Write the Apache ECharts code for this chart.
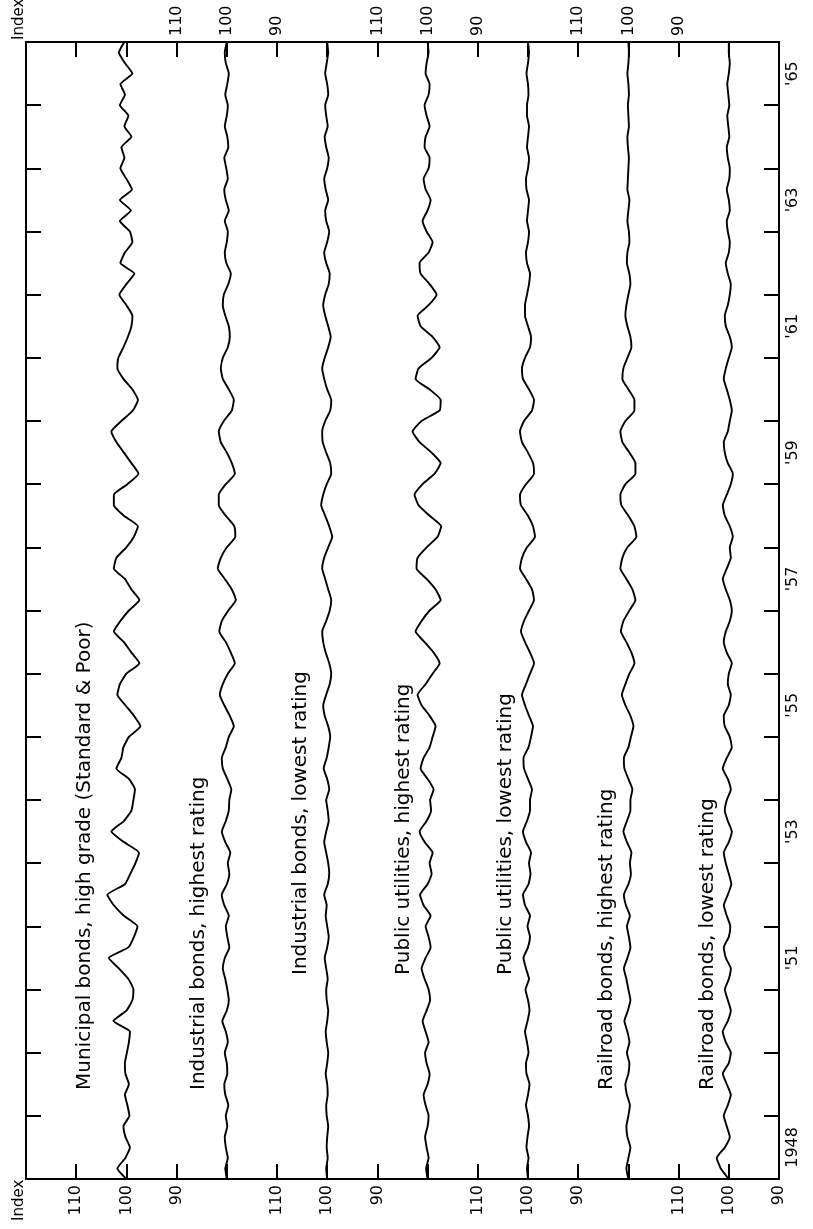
<!DOCTYPE html>
<html><head><meta charset="utf-8">
<script src="https://cdn.jsdelivr.net/npm/echarts@6/dist/echarts.min.js"></script>
<style>html,body{margin:0;padding:0;background:#fff}#c{width:813px;height:1229px}</style>
</head><body><div id="c"></div>
<script>
const startYear = 1948, endYear = 1966, pointsPerYear = 6;
const years = ['1948','1949','1950','1951','1952','1953','1954','1955','1956','1957','1958','1959','1960','1961','1962','1963','1964','1965'];
const yearLabels = ['1948','','',"'51",'',"'53",'',"'55",'',"'57",'',"'59",'',"'61",'',"'63",'',"'65"];
const indexTickLabels = ['110','100','90'];
const seriesNames = [
  'Municipal bonds, high grade (Standard & Poor)',
  'Industrial bonds, highest rating',
  'Industrial bonds, lowest rating',
  'Public utilities, highest rating',
  'Public utilities, lowest rating',
  'Railroad bonds, highest rating',
  'Railroad bonds, lowest rating'
];
// bimonthly values, Jan 1948 .. Jan 1966
const municipal = [
100.0,101.8,100.2,99.3,100.2,100.6,
99.4,99.8,100.3,99.5,100.2,100.3,
99.9,99.5,99.3,102.6,100.0,98.8,
98.6,99.6,101.5,103.5,99.6,98.5,
97.8,100.5,102.5,103.8,100.3,99.2,
98.2,97.5,100.5,103.0,100.5,99.0,
98.6,98.3,99.5,102.0,101.0,100.6,
99.5,97.2,98.5,100.2,101.8,101.3,
100.0,97.4,99.0,100.5,102.5,101.2,
99.5,97.4,99.0,100.3,102.5,102.0,
100.0,98.5,97.7,100.5,102.5,102.5,
99.8,97.6,99.0,100.5,102.0,103.0,
101.0,98.7,97.7,98.8,100.6,101.8,
101.6,100.6,99.7,99.0,98.8,100.0,
101.4,100.0,98.4,101.2,100.3,98.8,
99.3,101.3,99.1,101.3,98.9,100.0,
101.2,100.4,101.0,99.0,100.4,99.6,
101.3,100.3,101.2,98.8,100.3,101.5,
100.4];
const industrialHigh = [
100.0,100.3,99.8,100.2,100.4,99.9,
100.2,99.7,100.3,100.5,99.9,100.0,
100.4,99.8,100.2,100.9,100.0,99.6,
99.9,100.3,100.8,100.4,99.5,99.9,
100.2,99.6,100.5,101.0,100.0,99.5,
99.8,99.3,100.3,101.0,100.2,99.6,
99.5,99.1,99.9,100.8,101.0,100.2,
99.6,98.6,99.4,100.5,101.4,100.8,
99.8,98.4,99.2,100.2,101.5,101.0,
99.7,98.2,99.0,100.4,101.8,101.2,
100.0,98.3,98.5,100.2,101.6,101.6,
100.2,98.4,99.0,100.0,101.2,101.6,
100.6,99.0,98.6,99.6,100.8,101.2,
100.8,99.8,99.4,99.6,100.3,100.8,
100.6,99.7,99.2,100.1,100.4,100.0,
99.8,100.4,99.6,100.2,100.5,99.8,
100.1,100.5,99.7,99.9,100.4,100.0,
99.8,100.3,99.9,99.6,100.2,100.4,
100.0];
const industrialLow = [
100.0,100.2,99.9,100.1,100.0,99.8,
100.1,100.2,99.9,100.0,100.3,100.0,
99.8,100.1,100.3,100.0,99.8,100.1,
100.2,99.9,100.2,100.5,100.0,99.7,
100.0,100.3,100.1,100.6,99.9,99.6,
99.8,100.2,100.6,100.2,99.7,99.9,
100.2,99.6,100.0,100.7,100.1,99.7,
99.4,99.8,100.5,100.8,100.2,99.5,
99.2,99.6,100.3,100.8,101.0,100.2,
99.5,99.2,99.8,100.4,101.0,100.6,
99.8,99.0,99.6,100.4,101.2,100.8,
100.1,99.2,99.4,100.2,100.9,101.0,
100.4,99.4,99.2,100.0,100.6,101.0,
100.5,99.8,99.3,99.8,100.4,100.8,
100.4,99.7,99.5,100.2,100.6,100.0,
99.6,100.2,100.4,99.8,100.3,100.6,
100.0,99.7,100.2,100.5,99.9,100.2,
100.4,99.8,100.0,100.4,100.1,99.8,
100.0];
const utilitiesHigh = [
100.0,100.3,99.8,100.2,100.5,100.0,
99.8,100.4,100.8,100.0,99.6,100.2,
100.5,99.8,100.4,101.0,100.2,99.5,
99.8,100.6,101.2,100.4,99.4,99.8,
100.4,99.4,100.8,101.5,100.0,99.2,
99.6,99.0,100.6,101.6,100.2,99.3,
99.5,98.8,100.0,101.4,100.8,99.6,
99.0,98.4,99.6,101.2,102.0,100.4,
99.0,97.6,98.8,100.6,102.4,101.2,
99.6,97.4,98.4,100.2,102.2,102.0,
100.2,98.0,97.3,99.6,101.8,102.6,
101.0,98.6,97.4,99.2,101.6,103.0,
101.2,97.6,97.4,99.6,102.4,101.8,
99.2,97.6,99.0,101.4,102.0,99.8,
98.2,99.6,101.4,101.6,99.8,99.0,
100.2,101.0,100.0,99.4,100.4,100.8,
99.8,99.6,100.6,100.4,99.6,100.2,
100.6,99.8,99.6,100.4,100.2,99.8,
100.0];
const utilitiesLow = [
100.0,100.2,99.9,100.3,100.1,99.8,
100.0,100.4,100.0,99.7,100.3,100.4,
99.9,100.2,100.6,100.1,99.7,100.0,
100.5,99.8,100.4,100.9,100.0,99.6,
100.1,99.6,100.6,101.0,99.9,99.5,
99.8,99.4,100.4,101.0,100.2,99.6,
99.6,99.2,100.0,100.8,100.9,99.9,
99.4,99.0,99.8,100.6,101.2,100.4,
99.6,98.8,99.6,100.6,101.4,100.8,
99.8,98.8,99.2,100.4,101.6,101.2,
100.2,98.6,99.0,100.0,101.4,101.6,
100.4,98.8,99.0,100.0,101.2,101.6,
100.8,99.2,98.8,99.8,101.0,101.2,
100.6,99.6,99.4,100.0,100.6,100.6,
100.2,99.8,99.6,100.2,100.4,100.0,
99.8,100.2,100.0,99.8,100.3,100.4,
100.0,99.8,100.2,100.0,99.8,100.2,
100.2,99.9,100.0,100.3,100.0,99.8,
100.0];
const railroadHigh = [
100.0,100.4,100.0,99.6,100.2,100.4,
100.0,99.7,100.3,100.6,100.0,99.8,
100.3,99.8,100.2,100.8,100.1,99.6,
100.0,100.4,100.9,100.2,99.6,99.9,
100.3,99.7,100.5,100.9,100.0,99.5,
99.7,99.4,100.3,101.0,100.3,99.6,
99.6,99.2,100.0,100.8,100.9,100.0,
99.5,99.0,99.6,100.6,101.3,100.6,
99.8,98.8,99.4,100.4,101.5,101.0,
99.8,98.6,99.2,100.4,101.6,101.2,
100.2,98.4,98.8,100.0,101.4,101.6,
100.6,98.6,98.6,99.8,101.2,101.6,
100.6,98.8,98.8,100.0,101.2,101.0,
100.2,99.4,99.6,100.2,100.6,100.4,
100.0,99.6,99.8,100.3,100.2,99.8,
99.9,100.2,100.0,99.8,100.2,100.1,
100.0,99.9,100.1,100.2,99.9,100.0,
100.1,99.9,100.0,100.2,100.0,99.9,
100.0];
const railroadLow = [
100.0,101.6,102.4,100.8,99.8,100.4,
101.0,100.2,99.6,100.4,101.2,100.0,
99.6,100.6,101.2,100.2,99.6,100.2,
100.8,100.0,99.6,100.6,101.0,100.0,
99.7,100.4,101.0,100.2,99.5,100.0,
100.6,101.0,100.0,99.4,100.2,100.8,
100.4,99.6,100.2,101.2,100.4,99.4,
99.8,100.8,101.0,100.0,99.6,100.2,
100.0,99.4,100.4,101.0,100.6,99.8,
99.4,99.8,100.6,101.2,100.4,99.6,
99.8,99.2,99.8,100.8,101.2,100.4,
99.6,99.2,100.2,100.8,101.0,100.2,
99.8,99.4,99.8,100.4,101.0,100.6,
100.0,99.4,99.8,100.6,100.8,100.2,
99.8,99.6,100.2,100.6,100.0,99.8,
100.2,100.4,99.8,100.0,100.4,99.9,
99.8,100.2,100.4,99.9,100.1,100.3,
99.9,100.1,100.3,100.0,99.8,100.0,
100.0];
const allSeries = [municipal, industrialHigh, industrialLow, utilitiesHigh, utilitiesLow, railroadHigh, railroadLow];

const chart = echarts.init(document.getElementById('c'), null, {renderer: 'canvas'});
const FONT = 'DejaVu Sans';
const STEP = 20;           // index units between the panels' 100 lines
const SPAN = 150;          // index units across the frame

function labelFormatter(axisIdx, sideSeries) {
  return function (v) {
    for (const k of sideSeries) {
      const c = 100 - STEP * (k - axisIdx);
      const d = Math.round(v - c);
      if (d === 10) return indexTickLabels[0];
      if (d === 0) return indexTickLabels[1];
      if (d === -10) return indexTickLabels[2];
    }
    return '';
  };
}

const xAxes = allSeries.map((_, k) => {
  const base = {
    type: 'value', inverse: true,
    min: -30 + STEP * k, max: -30 + STEP * k + SPAN,
    splitLine: {show: false}
  };
  if (k === 0 || k === 1) {
    return Object.assign(base, {
      show: true,
      position: k === 0 ? 'bottom' : 'top',
      interval: 10,
      axisLine: {show: true, onZero: false, lineStyle: {color: '#000', width: 2}},
      axisTick: {show: true, inside: true, length: 15, lineStyle: {color: '#000', width: 2}},
      axisLabel: {
        show: true, rotate: k === 0 ? 90 : -90, margin: 6, fontSize: 16, fontFamily: FONT, color: '#000',
        showMinLabel: true, showMaxLabel: true,
        formatter: labelFormatter(k, k === 0 ? [0, 2, 4, 6] : [1, 3, 5])
      }
    });
  }
  return Object.assign(base, {show: false});
});

const yAxes = [
  {type: 'value', min: startYear, max: endYear, interval: 1, position: 'left',
   axisLine: {show: true, onZero: false, lineStyle: {color: '#000', width: 2}},
   axisTick: {show: true, inside: true, length: 15, lineStyle: {color: '#000', width: 2}},
   axisLabel: {show: false}, splitLine: {show: false}},
  {type: 'value', min: startYear, max: endYear, interval: 1, position: 'right',
   axisLine: {show: true, onZero: false, lineStyle: {color: '#000', width: 2}},
   axisTick: {show: true, inside: true, length: 15, lineStyle: {color: '#000', width: 2}},
   axisLabel: {show: false}, splitLine: {show: false}},
  {type: 'category', data: years, position: 'right', boundaryGap: true,
   axisLine: {show: false, onZero: false}, axisTick: {show: false}, splitLine: {show: false},
   axisLabel: {show: true, interval: 0, rotate: 90, margin: 6, fontSize: 16, fontFamily: FONT, color: '#000',
     formatter: (val, idx) => yearLabels[idx]}}
];

const series = allSeries.map((vals, k) => ({
  type: 'line', name: seriesNames[k], xAxisIndex: k, yAxisIndex: 0,
  data: vals.map((v, i) => [v, startYear + i / pointsPerYear]),
  showSymbol: false, smooth: 0.15, animation: false,
  lineStyle: {color: '#000', width: 1.9}
}));

const namePos = [[85, 1090], [199, 1090], [301, 975], [404, 975], [506, 975], [607, 1090], [708, 1090]];
const graphics = seriesNames.map((n, k) => ({
  type: 'text', x: namePos[k][0], y: namePos[k][1], rotation: Math.PI / 2,
  style: {text: n, fontSize: 20, fontFamily: FONT, fill: '#000', align: 'left', verticalAlign: 'middle'}
}));
graphics.push({type: 'text', x: 19, y: 1221, rotation: Math.PI / 2,
  style: {text: 'Index', fontSize: 15, fontFamily: FONT, fill: '#000', align: 'left', verticalAlign: 'middle'}});
graphics.push({type: 'text', x: 19, y: 40, rotation: Math.PI / 2,
  style: {text: 'Index', fontSize: 15, fontFamily: FONT, fill: '#000', align: 'left', verticalAlign: 'middle'}});

chart.setOption({
  animation: false,
  backgroundColor: '#fff',
  grid: {left: 26, right: 34, top: 42, bottom: 50, containLabel: false},
  xAxis: xAxes,
  yAxis: yAxes,
  series: series,
  graphic: graphics
});
</script></body></html>
